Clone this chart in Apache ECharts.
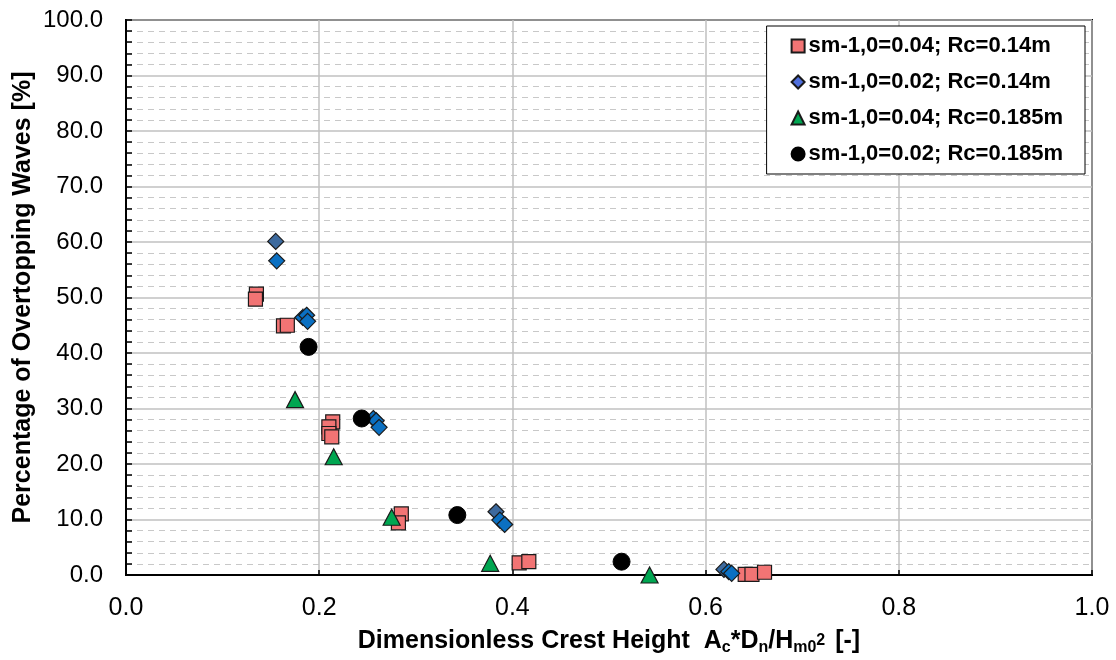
<!DOCTYPE html>
<html><head><meta charset="utf-8">
<script src="https://cdn.jsdelivr.net/npm/echarts@6/dist/echarts.min.js"></script>
<style>html,body{margin:0;padding:0;background:#fff}#c{width:1116px;height:660px}</style>
</head><body><div id="c"></div>
<script>
const seriesNames = ['sm-1,0=0.04; Rc=0.14m','sm-1,0=0.02; Rc=0.14m','sm-1,0=0.04; Rc=0.185m','sm-1,0=0.02; Rc=0.185m'];
const squares = [[0.135,50.6],[0.134,49.7],[0.163,44.9],[0.167,45.0],[0.214,27.6],[0.210,26.7],[0.210,25.5],[0.213,24.9],[0.285,11.0],[0.282,9.4],[0.407,2.2],[0.417,2.4],[0.641,0.1],[0.648,0.1],[0.661,0.5]];
const diamonds = [[0.155,60.1],[0.156,56.6],[0.183,46.4],[0.187,46.8],[0.188,45.7],[0.256,28.2],[0.259,27.8],[0.262,26.6],[0.383,11.4],[0.387,9.9],[0.392,9.1],[0.619,1.0],[0.624,0.6],[0.627,0.3]];
const triangles = [[0.175,31.6],[0.215,21.3],[0.275,10.4],[0.377,2.1],[0.542,0.0]];
const circles = [[0.189,41.1],[0.244,28.2],[0.343,10.8],[0.513,2.4]];
const diamondShade = ['dark','bright','bright','bright','bright','bright','bright','bright','dark','bright','bright','dark','bright','bright'];
const xTicks = {min:0, max:1, interval:0.2};
const yTicks = {min:0, max:100, interval:10};

const FONT = "'Liberation Sans', Arial, sans-serif";
const chart = echarts.init(document.getElementById('c'));
const shadeColor = {dark:'#3D6A9E', bright:'#0B70C2'};
chart.setOption({
  animation:false,
  backgroundColor:'#fff',
  grid:{left:126, right:24, top:20, bottom:85, containLabel:false, outerBoundsMode:'none',
        show:true, borderColor:'#000', borderWidth:2, backgroundColor:'transparent'},
  legend:{
    orient:'vertical', right:31, top:26,
    backgroundColor:'#fff', borderColor:'#000', borderWidth:1,
    padding:[9,22,9,24], itemGap:14, itemWidth:13, itemHeight:13,
    textStyle:{fontFamily:FONT, fontSize:22, fontWeight:'bold', color:'#000', lineHeight:22, padding:[0,0,0,-1]},
    data:seriesNames
  },
  xAxis:{
    type:'value', min:xTicks.min, max:xTicks.max, interval:xTicks.interval,
    axisLine:{lineStyle:{color:'#000', width:2}},
    axisTick:{inside:true, length:5, lineStyle:{color:'#000', width:1.5}},
    axisLabel:{fontFamily:FONT, fontSize:25, color:'#000', margin:21, formatter:v=>v.toFixed(1)},
    splitLine:{show:true, lineStyle:{color:'#c0c0c0', width:1.5}},
    name:'{t|Dimensionless Crest Height  A}{s|c}{t|*D}{s|n}{t|/H}{s|m0}{p|2}{t| [-]}',
    nameLocation:'middle', nameGap:52, nameMoveOverlap:false,
    nameTextStyle:{rich:{
      t:{fontFamily:FONT, fontSize:25, fontWeight:'bold', color:'#000', height:28, verticalAlign:'bottom'},
      s:{fontFamily:FONT, fontSize:16, fontWeight:'bold', color:'#000', height:28, verticalAlign:'bottom', padding:[0,0,-7,0]},
      p:{fontFamily:FONT, fontSize:16, fontWeight:'bold', color:'#000', height:28, verticalAlign:'top', padding:[0,3,0,0]}
    }}
  },
  yAxis:{
    type:'value', min:yTicks.min, max:yTicks.max, interval:yTicks.interval,
    axisLine:{lineStyle:{color:'#000', width:2}},
    axisTick:{inside:true, length:6, lineStyle:{color:'#000', width:1.5}},
    minorTick:{show:true, splitNumber:5, length:6, lineStyle:{color:'#000', width:1.5}},
    axisLabel:{fontFamily:FONT, fontSize:24, color:'#000', margin:23, formatter:v=>v.toFixed(1)},
    splitLine:{show:true, lineStyle:{color:'#c0c0c0', width:1.5}},
    minorSplitLine:{show:true, lineStyle:{color:'#c8c8c8', width:1.2, type:[6,5]}},
    name:'Percentage of Overtopping Waves [%]', nameLocation:'middle', nameGap:90, nameRotate:90, nameMoveOverlap:false,
    nameTextStyle:{fontFamily:FONT, fontSize:25, fontWeight:'bold', color:'#000'}
  },
  series:[
    {name:seriesNames[0], type:'scatter', symbol:'rect', symbolSize:14, data:squares,
     itemStyle:{color:'#F27474', borderColor:'#1a1a1a', borderWidth:1.2, opacity:1}},
    {name:seriesNames[1], type:'scatter', symbol:'diamond', symbolSize:[16,16], data:diamonds,
     itemStyle:{color:p=>p.dataIndex===undefined?shadeColor.dark:shadeColor[diamondShade[p.dataIndex]], borderColor:'#1a1a1a', borderWidth:1.2, opacity:1}},
    {name:seriesNames[2], type:'scatter', symbol:'triangle', symbolSize:[17,16], data:triangles,
     itemStyle:{color:'#00A651', borderColor:'#1a1a1a', borderWidth:1.2, opacity:1}},
    {name:seriesNames[3], type:'scatter', symbol:'circle', symbolSize:17, data:circles,
     itemStyle:{color:'#000', borderColor:'#000', borderWidth:1, opacity:1}}
  ]
});
</script></body></html>
